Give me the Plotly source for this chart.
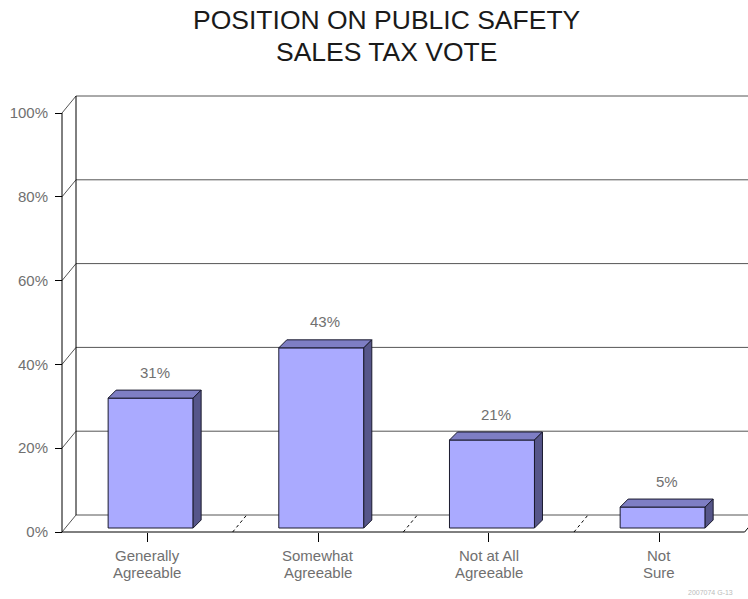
import plotly.graph_objects as go

# ---- data ----
categories = ["Generally<br>Agreeable", "Somewhat<br>Agreeable", "Not at All<br>Agreeable", "Not<br>Sure"]
values = [31, 43, 21, 5]
value_labels = ["31%", "43%", "21%", "5%"]
tick_values = [0, 20, 40, 60, 80, 100]
tick_labels = ["0%", "20%", "40%", "60%", "80%", "100%"]
title_lines = ["POSITION ON PUBLIC SAFETY", "SALES TAX VOTE"]
footer = "2007074 G-13"

# ---- geometry (pixel scale of the axes) ----
W, H = 748, 599
PX_PER_CAT = 170.67
PX_PER_PCT = 4.19
LEFT_PX = 62     # front-left corner of the floor
BASE_PX = 532    # front 0% line

x_range = [-0.5 - LEFT_PX / PX_PER_CAT, -0.5 + (W - LEFT_PX) / PX_PER_CAT]
y_range = [-(H - BASE_PX) / PX_PER_PCT, BASE_PX / PX_PER_PCT]

# depth offset of the back wall, in axis units
WALL_DX = 14 / PX_PER_CAT
WALL_DY = 17 / PX_PER_PCT
# bar placement inside the depth
BAR_DX0 = 3.3 / PX_PER_CAT
BAR_DY0 = 4 / PX_PER_PCT
BAR_DDX = 8 / PX_PER_CAT
BAR_DDY = 8 / PX_PER_PCT
BAR_W = 85 / PX_PER_CAT

FRONT = "#AAAAFF"
TOP = "#7E7EC4"
SIDE = "#56568A"
GRID = "#555555"
TEXT = "#707070"

n = len(categories)
left, right = -0.5, n - 0.5

fig = go.Figure()


def line(xs, ys, color, width=1, dash="solid"):
    fig.add_trace(go.Scatter(x=xs, y=ys, mode="lines", hoverinfo="skip",
                             line=dict(color=color, width=width, dash=dash),
                             showlegend=False))


# back-wall gridlines with their connectors to the front axis
for t in tick_values:
    line([left, left + WALL_DX, right + WALL_DX], [t, t + WALL_DY, t + WALL_DY], GRID)

# back wall edge and front axis
line([left + WALL_DX] * 2, [WALL_DY, 100 + WALL_DY], "black")
line([left, left], [0, 100], "black")

# dotted floor dividers between categories
for i in range(n - 1):
    line([i + 0.5, i + 0.5 + WALL_DX], [0, WALL_DY], "black", dash="dot")

# front edge of the floor
line([left, right, right + WALL_DX], [0, 0, WALL_DY], "black")


def face(xs, ys, color):
    fig.add_trace(go.Scatter(x=xs + [xs[0]], y=ys + [ys[0]], mode="lines",
                             fill="toself", fillcolor=color, hoverinfo="skip",
                             line=dict(color="#1a1a2e", width=1),
                             showlegend=False))


# 3-D bars
for i, v in enumerate(values):
    x0 = i - BAR_W / 2 + BAR_DX0
    x1 = x0 + BAR_W
    b = BAR_DY0
    t = b + v
    face([x0, x1, x1, x0], [b, b, t, t], FRONT)
    face([x0, x1, x1 + BAR_DDX, x0 + BAR_DDX], [t, t, t + BAR_DDY, t + BAR_DDY], TOP)
    face([x1, x1, x1 + BAR_DDX, x1 + BAR_DDX], [b, t, t + BAR_DDY, b + BAR_DDY], SIDE)
    fig.add_annotation(x=i + BAR_DX0 + BAR_DDX / 2, y=t + BAR_DDY, yshift=18,
                       text=value_labels[i], showarrow=False,
                       font=dict(size=15, color=TEXT), yanchor="middle")

# category labels, one annotation per line for tight line spacing
for i, cat in enumerate(categories):
    for k, part in enumerate(cat.split("<br>")):
        fig.add_annotation(x=i, yref="paper", y=1 - (555 + 17 * k) / H,
                           text=part, showarrow=False, xanchor="center",
                           yanchor="middle", font=dict(size=15, color=TEXT))

# title
for txt, ypx in zip(title_lines, [20, 52]):
    fig.add_annotation(xref="paper", yref="paper", x=387 / W, y=1 - ypx / H,
                       text=txt, showarrow=False, xanchor="center", yanchor="middle",
                       font=dict(size=26.5, color="#1a1a1a"))

fig.add_annotation(xref="paper", yref="paper", x=710 / W, y=1 - 592 / H,
                   text=footer, showarrow=False, xanchor="center", yanchor="middle",
                   font=dict(size=7, color="#bbbbbb"))

fig.update_layout(
    width=W, height=H,
    margin=dict(l=0, r=0, t=0, b=0),
    paper_bgcolor="white", plot_bgcolor="white",
    font=dict(family="Liberation Sans, Arial, sans-serif"),
    xaxis=dict(range=x_range, showgrid=False, zeroline=False, showline=False,
               anchor="free", position=1 - BASE_PX / H,
               tickmode="array", tickvals=list(range(n)), showticklabels=False,
               ticks="outside", ticklen=9, tickcolor="black", automargin=False),
    yaxis=dict(range=y_range, showgrid=False, zeroline=False, showline=False,
               anchor="free", position=LEFT_PX / W,
               tickmode="array", tickvals=tick_values, ticktext=tick_labels,
               ticks="outside", ticklen=7, tickcolor="black", ticklabelstandoff=4,
               tickfont=dict(size=15, color=TEXT), automargin=False),
    showlegend=False,
)

fig.write_html("out.html")
